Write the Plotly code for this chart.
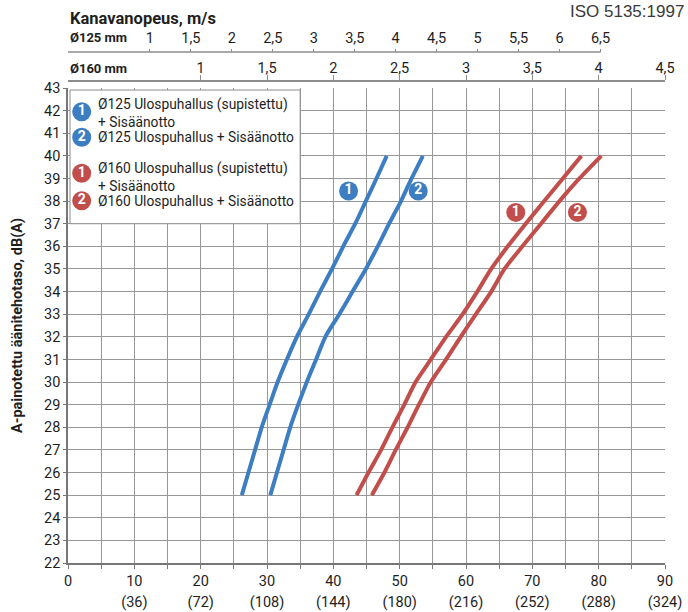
import plotly.graph_objects as go

# Sound power level (dB(A)) against airflow (l/s) for the four duct configurations
level_db = [25, 26, 27, 28, 29, 30, 31, 32, 33, 34, 35, 36, 37, 38, 39, 40]
flow_125_restricted = [26.2, 27.2, 28.2, 29.2, 30.4, 31.6, 33.0, 34.5, 36.3, 38.0, 39.8, 41.5, 43.3, 44.9, 46.5, 48.05]
flow_125_full = [30.5, 31.5, 32.5, 33.5, 34.7, 36.0, 37.4, 38.8, 40.9, 42.9, 44.9, 46.7, 48.4, 50.2, 51.8, 53.5]
flow_160_restricted = [43.5, 45.3, 47.2, 48.9, 50.7, 52.4, 54.7, 57.0, 59.5, 61.7, 63.8, 66.3, 69.0, 71.8, 74.6, 77.4]
flow_160_full = [45.8, 47.7, 49.4, 51.2, 52.9, 54.7, 57.0, 59.2, 61.5, 63.8, 65.8, 68.5, 71.3, 74.1, 77.1, 80.4]

series_names = [
    "Ø125 Ulospuhallus (supistettu)<br>+ Sisäänotto",
    "Ø125 Ulospuhallus + Sisäänotto",
    "Ø160 Ulospuhallus (supistettu)<br>+ Sisäänotto",
    "Ø160 Ulospuhallus + Sisäänotto",
]
series_numbers = ["1", "2", "1", "2"]

# Bottom axis: l/s with m³/h in brackets
flow_ticks = [0, 10, 20, 30, 40, 50, 60, 70, 80, 90]
flow_m3h_labels = ["", "(36)", "(72)", "(108)", "(144)", "(180)", "(216)", "(252)", "(288)", "(324)"]

# Top axes: duct velocity (m/s) for both duct sizes
velocity_125 = [1, 1.5, 2, 2.5, 3, 3.5, 4, 4.5, 5, 5.5, 6, 6.5]
velocity_160 = [1, 1.5, 2, 2.5, 3, 3.5, 4, 4.5]
flow_per_velocity_125 = 12.35   # l/s per m/s, Ø125 duct
flow_per_velocity_160 = 20.0    # l/s per m/s, Ø160 duct

BLUE = "#3d7dc2"
RED = "#c24e4b"
GRID = "#979797"
TEXT = "#1e1e1e"
FONT = "Roboto"

W, H = 688, 612
M_L, M_R, M_T, M_B = 68, 23, 40, 49
PLOT_H = H - M_T - M_B
PLOT_W = W - M_L - M_R
X_RANGE = [0, 90]
Y_RANGE = [22, 43]
Y_TOP_PX = 88


def py(px):
    """Pixel row -> paper y fraction."""
    return (H - M_B - px) / PLOT_H


def pxx(px):
    """Pixel column -> paper x fraction."""
    return (px - M_L) / PLOT_W


Y_DOMAIN_TOP = py(Y_TOP_PX)
Y_SPAN = Y_RANGE[1] - Y_RANGE[0]


def data_x(px):
    return X_RANGE[0] + (px - M_L) / PLOT_W * (X_RANGE[1] - X_RANGE[0])


def data_y(px):
    return Y_RANGE[0] + (H - M_B - px) / (PLOT_H * Y_DOMAIN_TOP) * Y_SPAN


def fmt(v):
    return f"{v:g}".replace(".", ",")


fig = go.Figure()

curves = [
    (flow_125_restricted, BLUE),
    (flow_125_full, BLUE),
    (flow_160_restricted, RED),
    (flow_160_full, RED),
]
for (flows, color), name in zip(curves, series_names):
    fig.add_trace(go.Scatter(
        x=flows, y=level_db, mode="lines", name=name,
        line=dict(color=color, width=4, shape="spline", smoothing=0.7),
        showlegend=False, hoverinfo="skip",
    ))

# Numbered badges next to each curve
badge_flow = [42.3, 52.8, 67.5, 76.8]
badge_db = [38.45, 38.45, 37.5, 37.5]
badge_colors = [BLUE, BLUE, RED, RED]
fig.add_trace(go.Scatter(
    x=badge_flow, y=badge_db, mode="markers+text",
    marker=dict(size=19, color=badge_colors, line=dict(width=0)),
    text=[f"<b>{n}</b>" for n in series_numbers], textposition="middle center",
    textfont=dict(color="white", size=14, family=FONT),
    showlegend=False, hoverinfo="skip", cliponaxis=False,
))

# Key box with badges and series names
key_badge_rows = [111.7, 137.3, 173.3, 200.7]
key_text_rows = [113.3, 137.3, 177.3, 201.2]
key_badge_x = data_x(81.7)
fig.add_trace(go.Scatter(
    x=[key_badge_x] * 4, y=[data_y(r) for r in key_badge_rows],
    mode="markers+text",
    marker=dict(size=19, color=badge_colors, line=dict(width=0)),
    text=[f"<b>{n}</b>" for n in series_numbers], textposition="middle center",
    textfont=dict(color="white", size=14, family=FONT),
    showlegend=False, hoverinfo="skip", cliponaxis=False,
))

fig.add_shape(
    type="rect", xref="x", yref="y",
    x0=data_x(70), x1=35, y0=37, y1=data_y(90),
    fillcolor="white", line=dict(color="#8c8c8c", width=1), layer="between",
)

annotations = []
for name, row in zip(series_names, key_text_rows):
    annotations.append(dict(
        x=pxx(96), y=py(row), xref="paper", yref="paper",
        xanchor="left", yanchor="middle", align="left", showarrow=False,
        text=name, font=dict(size=13.8, color=TEXT, family=FONT),
    ))

# Top headings
annotations += [
    dict(x=0, y=py(19), xref="paper", yref="paper", xanchor="left", yanchor="middle",
         showarrow=False, text="<b>Kanavanopeus, m/s</b>",
         font=dict(size=16.5, color=TEXT, family=FONT)),
    dict(x=0, y=py(37), xref="paper", yref="paper", xanchor="left", yanchor="middle",
         showarrow=False, text="<b>Ø125 mm</b>",
         font=dict(size=13, color=TEXT, family=FONT)),
    dict(x=0, y=py(69), xref="paper", yref="paper", xanchor="left", yanchor="middle",
         showarrow=False, text="<b>Ø160 mm</b>",
         font=dict(size=13, color=TEXT, family=FONT)),
    dict(x=pxx(686), y=py(11), xref="paper", yref="paper", xanchor="right", yanchor="middle",
         showarrow=False, text="ISO 5135:1997",
         font=dict(size=17, color="#3a3a3a", family="Liberation Sans")),
]

# Ø125 velocity axis line ends at its last tick
fig.add_shape(
    type="line", xref="x", yref="paper",
    x0=0, x1=velocity_125[-1] * flow_per_velocity_125,
    y0=py(52), y1=py(52), line=dict(color="#8c8c8c", width=1.5),
)

# Invisible anchors so the extra axes get drawn
for ax in ["x2", "x3", "x4"]:
    fig.add_trace(go.Scatter(x=[0], y=[22], xaxis=ax, yaxis="y", mode="markers",
                             marker=dict(opacity=0), showlegend=False, hoverinfo="skip"))

tick_font = dict(size=14.5, color=TEXT, family=FONT)

fig.update_layout(
    width=W, height=H,
    margin=dict(l=M_L, r=M_R, t=M_T, b=M_B, autoexpand=False),
    paper_bgcolor="white", plot_bgcolor="white",
    font=dict(family=FONT, color=TEXT),
    annotations=annotations,
    xaxis=dict(
        range=X_RANGE, domain=[0, 1], anchor="y",
        tickvals=flow_ticks, ticktext=[str(v) for v in flow_ticks],
        showgrid=True, gridcolor=GRID, gridwidth=1,
        ticks="outside", ticklen=4, tickcolor="#777",
        minor=dict(dtick=5, showgrid=True, gridcolor=GRID, ticks="outside", ticklen=4, tickcolor="#777"),
        showline=True, linecolor="#777", linewidth=1.5,
        tickfont=tick_font, zeroline=False,
    ),
    xaxis4=dict(
        range=X_RANGE, overlaying="x", anchor="y", side="bottom",
        tickvals=flow_ticks, ticktext=flow_m3h_labels, ticks="",
        ticklabelstandoff=28, showgrid=False, showline=False, zeroline=False,
        tickfont=tick_font,
    ),
    xaxis2=dict(
        range=X_RANGE, overlaying="x", anchor="free", position=py(80.7), side="top",
        tickvals=[v * flow_per_velocity_160 for v in velocity_160],
        ticktext=[fmt(v) for v in velocity_160],
        ticks="outside", ticklen=5, tickcolor="#8c8c8c",
        ticklabelstandoff=-4,
        showline=True, linecolor="#8c8c8c", linewidth=1.5,
        showgrid=False, zeroline=False, tickfont=tick_font,
    ),
    xaxis3=dict(
        range=X_RANGE, overlaying="x", anchor="free", position=py(52), side="top",
        tickvals=[v * flow_per_velocity_125 for v in velocity_125],
        ticktext=[fmt(v) for v in velocity_125],
        ticks="outside", ticklen=3, tickcolor="#8c8c8c",
        showline=False, showgrid=False, zeroline=False, tickfont=tick_font,
    ),
    yaxis=dict(
        range=Y_RANGE, domain=[0, Y_DOMAIN_TOP],
        dtick=1, tick0=22,
        showgrid=True, gridcolor=GRID, gridwidth=1,
        ticks="outside", ticklen=3, tickcolor="#777",
        showline=True, linecolor="#777", linewidth=1.5,
        tickfont=tick_font, zeroline=False,
        title=dict(text="<b>A-painotettu äänitehotaso, dB(A)</b>",
                   font=dict(size=14.5, color=TEXT, family=FONT), standoff=18),
    ),
)

fig.write_html("out.html")
